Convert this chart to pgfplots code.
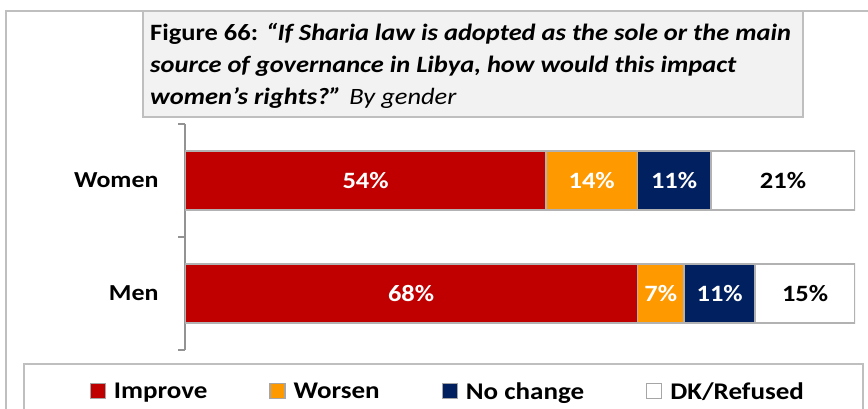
\documentclass[border=0pt]{standalone}
\usepackage{fontspec}
\setmainfont{Carlito}
\newfontfamily\widefont[FakeStretch=1.13]{Carlito}
\usepackage{pgfplots}
\pgfplotsset{compat=1.18}

\definecolor{cimprove}{HTML}{C00000}
\definecolor{cworsen}{HTML}{FF9900}
\definecolor{cnochange}{HTML}{002060}
\definecolor{frame}{HTML}{BFBFBF}
\definecolor{titlebg}{HTML}{F2F2F2}

\newcommand{\catfont}{\widefont\fontsize{23}{23}\selectfont\bfseries}
\newcommand{\legfont}{\widefont\fontsize{24}{24}\selectfont\bfseries}
\newcommand{\barfont}{\widefont\fontsize{23.5}{23.5}\selectfont\bfseries}

\begin{document}
\begin{tikzpicture}
\useasboundingbox (0,0) rectangle (868bp,-409bp);
\clip (0,0) rectangle (868bp,-409bp);

% outer chart frame and legend frame
\draw[frame, line width=1.5bp] (6bp,-420bp) -- (6bp,-11bp) -- (880bp,-11bp);
\draw[frame, line width=1.5bp] (24bp,-420bp) -- (24bp,-364bp) -- (863bp,-364bp) -- (863bp,-420bp);

% title box
\draw[frame, fill=titlebg, line width=1.5bp] (143bp,-11bp) rectangle (803bp,-117bp);
\node[anchor=base west, align=left, inner sep=0pt, font=\widefont\fontsize{23.5}{32}\selectfont]
  at (150bp,-104bp)
  {\textbf{Figure 66: \textit{“If Sharia law is adopted as the sole or the main}}\\
   \textbf{\textit{source of governance in Libya, how would this impact}}\\
   \textbf{\textit{women’s rights?”}} \textit{By gender}};

% bars
\begin{axis}[
  at={(185bp,-350bp)}, anchor=south west,
  scale only axis, width=670bp, height=226bp,
  xbar stacked,
  xmin=0, xmax=100, ymin=-0.5, ymax=1.5,
  bar width=59bp,
  hide x axis,
  axis y line*=left,
  y axis line style={draw=gray!85, line width=1.3bp},
  ytick={-0.5,0.5,1.5}, yticklabels={},
  ytick style={draw=gray!85, line width=1.3bp},
  tick align=outside, major tick length=7bp,
  extra y ticks={0,1}, extra y tick labels={Men,Women},
  extra y tick style={major tick length=0pt},
  yticklabel style={font=\catfont, xshift=-23bp},
  legend columns=4,
  legend style={at={(axis description cs:-0.1425,-0.183)}, anchor=west,
    draw=none, fill=none, inner sep=0pt, font=\legfont,
    /tikz/every odd column/.append style={column sep=6bp},
    /tikz/every even column/.append style={column sep=60bp}},
  legend image code/.code={\draw[#1, draw=gray!70, line width=1.2bp] (0bp,-7.5bp) rectangle (15bp,7.5bp);},
]
\addplot[fill=cimprove, draw=frame!80!gray, line width=1.5bp]
  coordinates {(67.5,0) (53.9,1)};
\addplot[fill=cworsen, draw=frame!80!gray, line width=1.5bp]
  coordinates {(7.0,0) (13.6,1)};
\addplot[fill=cnochange, draw=frame!80!gray, line width=1.5bp]
  coordinates {(10.6,0) (11.0,1)};
\addplot[fill=white, draw=frame!80!gray, line width=1.5bp]
  coordinates {(14.9,0) (21.5,1)};
\legend{Improve, Worsen, No change, DK/Refused}
\end{axis}

% value labels at the middle of each segment
\begin{axis}[
  at={(185bp,-350bp)}, anchor=south west,
  scale only axis, width=670bp, height=226bp,
  xmin=0, xmax=100, ymin=-0.5, ymax=1.5,
  hide axis,
  point meta=explicit symbolic,
  nodes near coords,
  every node near coord/.append style={anchor=center, font=\barfont},
]
\addplot[draw=none, mark=none, nodes near coords style={text=white}]
  coordinates {(33.75,0) [68\%] (26.95,1) [54\%]
               (71.0,0) [7\%] (60.7,1) [14\%]
               (79.8,0) [11\%] (73.0,1) [11\%]};
\addplot[draw=none, mark=none, nodes near coords style={text=black}]
  coordinates {(92.55,0) [15\%] (89.25,1) [21\%]};
\end{axis}
\end{tikzpicture}
\end{document}
